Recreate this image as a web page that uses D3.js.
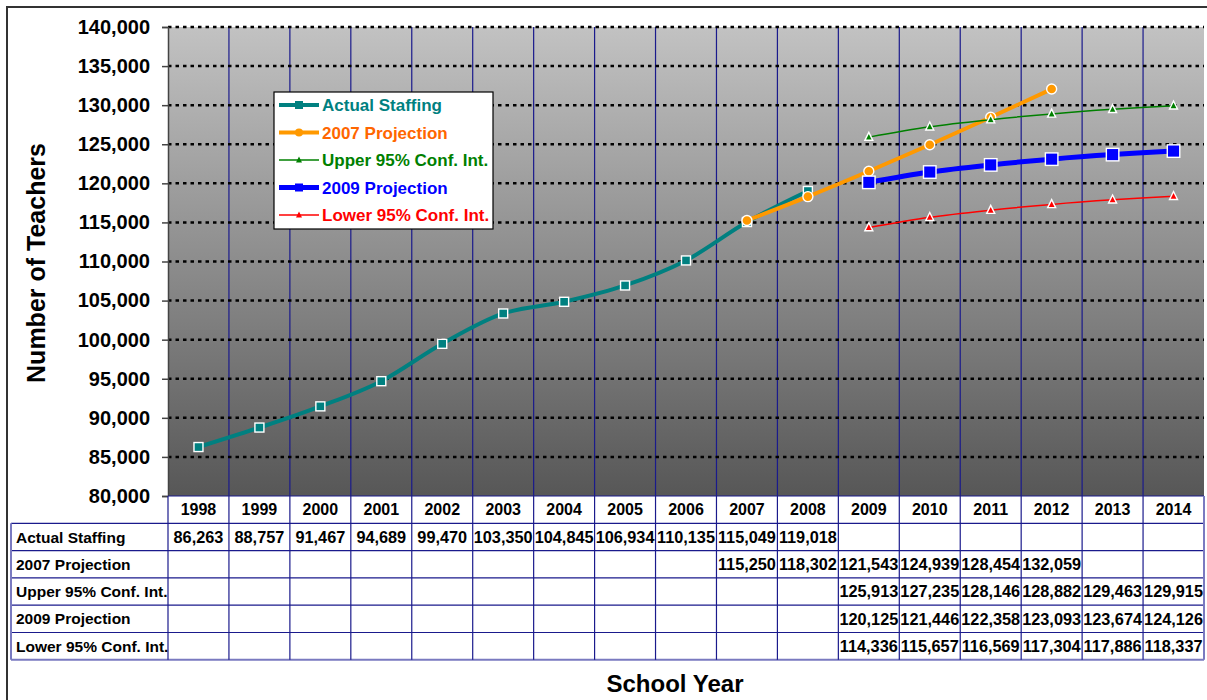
<!DOCTYPE html>
<html>
<head>
<meta charset="utf-8">
<script src="https://cdn.jsdelivr.net/npm/d3@7"></script>
<style>
  body { margin: 0; background: #fff; }
  svg { display: block; font-family: Arial, "Liberation Sans", sans-serif; }
</style>
</head>
<body>
<div id="chart"></div>
<script>
const years = [1998, 1999, 2000, 2001, 2002, 2003, 2004, 2005, 2006, 2007, 2008, 2009, 2010, 2011, 2012, 2013, 2014];

const actualYears = [1998, 1999, 2000, 2001, 2002, 2003, 2004, 2005, 2006, 2007, 2008];
const actualStaffing = [86263, 88757, 91467, 94689, 99470, 103350, 104845, 106934, 110135, 115049, 119018];

const proj2007Years = [2007, 2008, 2009, 2010, 2011, 2012];
const projection2007 = [115250, 118302, 121543, 124939, 128454, 132059];

const ciYears = [2009, 2010, 2011, 2012, 2013, 2014];
const upper95 = [125913, 127235, 128146, 128882, 129463, 129915];
const projection2009 = [120125, 121446, 122358, 123093, 123674, 124126];
const lower95 = [114336, 115657, 116569, 117304, 117886, 118337];

const yTicks = [80000, 85000, 90000, 95000, 100000, 105000, 110000, 115000, 120000, 125000, 130000, 135000, 140000];

const series = [
  { name: "Actual Staffing", tableName: "Actual Staffing", years: actualYears, values: actualStaffing,
    color: "#008080", text: "#008080", width: 4, marker: "square", size: 9 },
  { name: "2007 Projection", tableName: "2007 Projection", years: proj2007Years, values: projection2007,
    color: "#FF9900", text: "#FF6600", width: 4, marker: "circle", size: 10 },
  { name: "Upper 95% Conf. Int.", tableName: "Upper 95% Conf. Int.", years: ciYears, values: upper95,
    color: "#008000", text: "#008000", width: 1.5, marker: "triangle", size: 8 },
  { name: "2009 Projection", tableName: "2009 Projection", years: ciYears, values: projection2009,
    color: "#0000FF", text: "#0000FF", width: 5, marker: "square", size: 12.5 },
  { name: "Lower 95% Conf. Int.", tableName: "Lower 95% Conf. Int.", years: ciYears, values: lower95,
    color: "#FF0000", text: "#FF0000", width: 1.5, marker: "triangle", size: 8 }
];

const W = 1207, H = 700;
const plot = { left: 168, right: 1204, top: 27, bottom: 496 };

const svg = d3.select('#chart').append('svg')
  .attr('width', W).attr('height', H);

// outer frame
svg.append('path')
  .attr('d', `M7,${H} V7 H${W}`)
  .attr('fill', 'none').attr('stroke', '#333').attr('stroke-width', 2);

const x = d3.scaleBand().domain(years).range([plot.left, plot.right]).padding(0);
const y = d3.scaleLinear().domain([80000, 140000]).range([plot.bottom, plot.top]);
const cx = d => x(d) + x.bandwidth() / 2;

// plot background gradient
const grad = svg.append('defs').append('linearGradient')
  .attr('id', 'bg').attr('x1', 0).attr('y1', 0).attr('x2', 0).attr('y2', 1);
grad.append('stop').attr('offset', '0%').attr('stop-color', '#c2c2c2');
grad.append('stop').attr('offset', '100%').attr('stop-color', '#575757');

svg.append('rect')
  .attr('x', plot.left).attr('y', plot.top)
  .attr('width', plot.right - plot.left).attr('height', plot.bottom - plot.top)
  .attr('fill', 'url(#bg)');

// vertical category lines
svg.append('g').selectAll('line')
  .data(years.slice(1))
  .join('line')
  .attr('x1', d => x(d)).attr('x2', d => x(d))
  .attr('y1', plot.top).attr('y2', plot.bottom)
  .attr('stroke', '#1a1a8c').attr('stroke-width', 1.2);

// horizontal dashed gridlines
svg.append('g').selectAll('line')
  .data(yTicks.slice(1))
  .join('line')
  .attr('x1', plot.left).attr('x2', plot.right)
  .attr('y1', d => y(d)).attr('y2', d => y(d))
  .attr('stroke', '#000').attr('stroke-width', 2.5)
  .attr('stroke-dasharray', '3.5,4');

// y axis
const yAxis = svg.append('g')
  .attr('transform', `translate(${plot.left},0)`)
  .call(d3.axisLeft(y).tickValues(yTicks).tickSize(6).tickPadding(12).tickFormat(d3.format(',')));
yAxis.select('.domain').attr('stroke', '#444').attr('stroke-width', 1.5);
yAxis.selectAll('.tick line').attr('stroke', '#444').attr('stroke-width', 1.5);
yAxis.selectAll('.tick text')
  .attr('font-size', 20).attr('font-weight', 'bold').attr('fill', '#000')
  .attr('font-family', 'Arial, "Liberation Sans", sans-serif');

svg.append('text')
  .attr('transform', 'translate(45,263) rotate(-90)')
  .attr('text-anchor', 'middle')
  .attr('font-size', 25).attr('font-weight', 'bold')
  .text('Number of Teachers');

// series
const line = d3.line().x(d => cx(d.year)).y(d => y(d.value)).curve(d3.curveCardinal.tension(0));

function marker(sel, s) {
  if (s.marker === 'circle') {
    sel.append('circle').attr('r', s.size / 2);
  } else if (s.marker === 'square') {
    sel.append('rect').attr('x', -s.size / 2).attr('y', -s.size / 2)
      .attr('width', s.size).attr('height', s.size);
  } else {
    const h = s.size;
    sel.append('path').attr('d', `M0,${-h * 0.6} L${h / 2},${h * 0.4} L${-h / 2},${h * 0.4} Z`);
  }
  sel.selectAll('*').attr('fill', s.color).attr('stroke', '#fff').attr('stroke-width', 1.4);
}

series.forEach(s => {
  const pts = s.years.map((yr, i) => ({ year: yr, value: s.values[i] }));
  const g = svg.append('g');
  g.append('path').datum(pts)
    .attr('d', line)
    .attr('fill', 'none').attr('stroke', s.color).attr('stroke-width', s.width)
    .attr('stroke-linejoin', 'round');
  g.selectAll('g.m').data(pts).join('g')
    .attr('class', 'm')
    .attr('transform', d => `translate(${cx(d.year)},${y(d.value)})`)
    .each(function() { marker(d3.select(this), s); });
});

// legend
const legend = svg.append('g').attr('transform', 'translate(274,92)');
legend.append('rect').attr('width', 219).attr('height', 137)
  .attr('fill', '#fff').attr('stroke', '#000').attr('stroke-width', 1.2);
const li = legend.selectAll('g.li').data(series).join('g')
  .attr('class', 'li')
  .attr('transform', (d, i) => `translate(0,${13 + i * 27.5})`);
li.append('line').attr('x1', 5).attr('x2', 45)
  .attr('stroke', d => d.color).attr('stroke-width', d => d.width);
li.each(function(s) {
  const m = d3.select(this).append('g').attr('transform', 'translate(25,0)');
  marker(m, Object.assign({}, s, { size: s.marker === 'triangle' ? 6 : 8 }));
  m.selectAll('*').attr('stroke', 'none');
});
li.append('text').attr('x', 48).attr('dy', '0.36em')
  .attr('font-size', 17).attr('font-weight', 'bold')
  .attr('fill', d => d.text)
  .text(d => d.name);

// data table
const tableLeft = 11;
const rowH = 27.3;
const headerTop = plot.bottom;
const nRows = series.length;
const tableBottom = headerTop + rowH * (nRows + 1);
const fmt = d3.format(',');
const table = svg.append('g');

table.append('rect')
  .attr('x', plot.left).attr('y', headerTop)
  .attr('width', plot.right - plot.left).attr('height', rowH)
  .attr('fill', '#fff');

// horizontal lines
table.selectAll('line.h').data(d3.range(nRows + 2)).join('line')
  .attr('class', 'h')
  .attr('x1', i => i === 0 ? plot.left : tableLeft).attr('x2', plot.right)
  .attr('y1', i => headerTop + i * rowH).attr('y2', i => headerTop + i * rowH)
  .attr('stroke', (i) => i === nRows + 1 ? '#7a7ac0' : '#1a1a8c')
  .attr('stroke-width', i => i === nRows + 1 ? 2 : 1.2);

// vertical lines
table.selectAll('line.v').data(years.concat(['end'])).join('line')
  .attr('class', 'v')
  .attr('x1', d => d === 'end' ? plot.right : x(d))
  .attr('x2', d => d === 'end' ? plot.right : x(d))
  .attr('y1', headerTop).attr('y2', tableBottom)
  .attr('stroke', d => d === 'end' ? '#7a7ac0' : '#1a1a8c')
  .attr('stroke-width', d => d === 'end' ? 2 : 1.2);
table.append('line')
  .attr('x1', tableLeft).attr('x2', tableLeft)
  .attr('y1', headerTop + rowH).attr('y2', tableBottom)
  .attr('stroke', '#7a7ac0').attr('stroke-width', 2);

// header years
table.selectAll('text.yr').data(years).join('text')
  .attr('class', 'yr')
  .attr('x', d => cx(d)).attr('y', headerTop + rowH / 2).attr('dy', '0.36em')
  .attr('text-anchor', 'middle').attr('font-size', 16).attr('font-weight', 'bold')
  .text(d => d);

// rows
series.forEach((s, r) => {
  const ry = headerTop + rowH * (r + 1) + rowH / 2;
  table.append('text')
    .attr('x', tableLeft + 5).attr('y', ry).attr('dy', '0.36em')
    .attr('font-size', 15.5).attr('font-weight', 'bold')
    .text(s.tableName);
  table.selectAll(null).data(s.years.map((yr, i) => ({ year: yr, value: s.values[i] })))
    .join('text')
    .attr('x', d => cx(d.year)).attr('y', ry).attr('dy', '0.36em')
    .attr('text-anchor', 'middle').attr('font-size', 16.3).attr('font-weight', 'bold')
    .text(d => fmt(d.value));
});

svg.append('text')
  .attr('x', 675).attr('y', 683).attr('dy', '0.36em')
  .attr('text-anchor', 'middle')
  .attr('font-size', 24).attr('font-weight', 'bold')
  .text('School Year');
</script>
</body>
</html>
